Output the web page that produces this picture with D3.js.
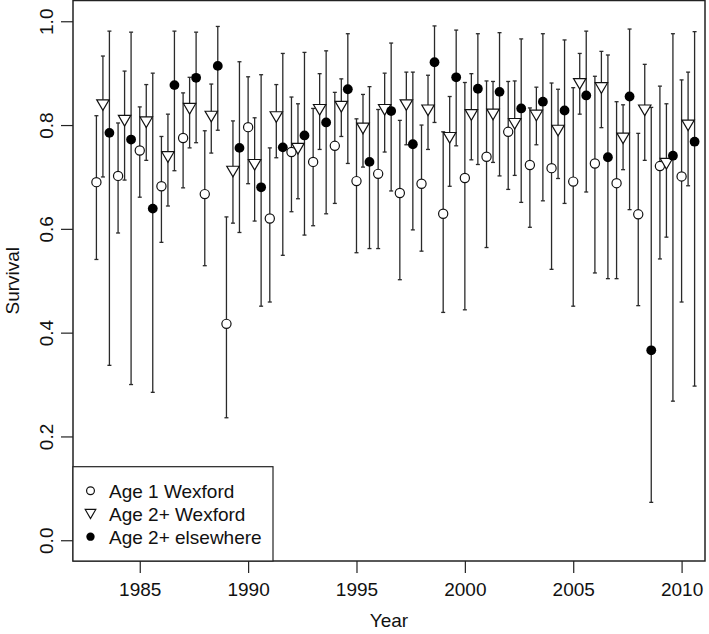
<!DOCTYPE html>
<html>
<head>
<meta charset="utf-8">
<script src="https://cdn.jsdelivr.net/npm/d3@7"></script>
<style>
  body { margin: 0; background: #fff; }
  text { font-family: "Liberation Sans", Arial, sans-serif; fill: #111; }
</style>
</head>
<body>
<svg id="chart"></svg>
<script>
const width = 709;
const height = 634;

// data
const years = [1983, 1984, 1985, 1986, 1987, 1988, 1989, 1990, 1991, 1992, 1993, 1994, 1995, 1996,
               1997, 1998, 1999, 2000, 2001, 2002, 2003, 2004, 2005, 2006, 2007, 2008, 2009, 2010];

const age1 = [0.690, 0.702, 0.751, 0.682, 0.775, 0.667, 0.417, 0.796, 0.620, 0.748, 0.729, 0.760, 0.692, 0.706,
              0.669, 0.687, 0.629, 0.698, 0.739, 0.787, 0.723, 0.717, 0.691, 0.726, 0.688, 0.628, 0.721, 0.701];
const age1Lo = [0.541, 0.592, 0.661, 0.574, 0.679, 0.529, 0.236, 0.687, 0.459, 0.633, 0.606, 0.649, 0.554, 0.562,
                0.502, 0.557, 0.439, 0.444, 0.564, 0.676, 0.603, 0.522, 0.451, 0.515, 0.504, 0.452, 0.542, 0.459];
const age1Hi = [0.818, 0.804, 0.835, 0.778, 0.862, 0.789, 0.623, 0.893, 0.756, 0.854, 0.832, 0.863, 0.812, 0.830,
                0.809, 0.800, 0.787, 0.882, 0.885, 0.884, 0.833, 0.881, 0.872, 0.894, 0.845, 0.784, 0.875, 0.887];

const age2W = [0.839, 0.809, 0.806, 0.739, 0.832, 0.817, 0.711, 0.724, 0.816, 0.755, 0.830, 0.836, 0.794, 0.830,
               0.839, 0.829, 0.776, 0.820, 0.821, 0.803, 0.819, 0.790, 0.880, 0.872, 0.775, 0.829, 0.726, 0.800];
const age2WLo = [0.700, 0.694, 0.732, 0.644, 0.756, 0.746, 0.611, 0.615, 0.737, 0.658, 0.753, 0.778, 0.719, 0.748,
                 0.762, 0.753, 0.682, 0.733, 0.728, 0.703, 0.762, 0.697, 0.821, 0.795, 0.714, 0.732, 0.584, 0.683];
const age2WHi = [0.933, 0.904, 0.878, 0.821, 0.892, 0.879, 0.808, 0.814, 0.878, 0.841, 0.899, 0.889, 0.859, 0.900,
                 0.902, 0.896, 0.855, 0.899, 0.884, 0.885, 0.873, 0.869, 0.938, 0.942, 0.839, 0.917, 0.841, 0.902];

const age2E = [0.785, 0.772, 0.639, 0.877, 0.891, 0.914, 0.756, 0.680, 0.757, 0.780, 0.805, 0.869, 0.729, 0.827,
               0.763, 0.921, 0.892, 0.870, 0.864, 0.832, 0.845, 0.828, 0.857, 0.738, 0.855, 0.366, 0.741, 0.768];
const age2ELo = [0.337, 0.300, 0.285, 0.712, 0.766, 0.790, 0.593, 0.451, 0.549, 0.588, 0.629, 0.726, 0.562, 0.673,
                 0.598, 0.805, 0.760, 0.724, 0.702, 0.651, 0.654, 0.649, 0.671, 0.504, 0.637, 0.073, 0.268, 0.297];
const age2EHi = [0.981, 0.979, 0.900, 0.981, 0.979, 0.990, 0.922, 0.897, 0.938, 0.940, 0.943, 0.976, 0.874, 0.958,
                 0.902, 0.991, 0.983, 0.976, 0.978, 0.966, 0.976, 0.964, 0.981, 0.935, 0.985, 0.834, 0.976, 0.980];

const xTicks = [1985, 1990, 1995, 2000, 2005, 2010];
const yTicks = [0.0, 0.2, 0.4, 0.6, 0.8, 1.0];
const seriesNames = ['Age 1 Wexford', 'Age 2+ Wexford', 'Age 2+ elsewhere'];

const plot = { left: 73, right: 705, top: 0.5, bottom: 561 };

const svg = d3.select('#chart')
    .attr('width', width)
    .attr('height', height);

// R style 4% padding on both axes
const x = d3.scaleLinear()
    .domain([1983 - 0.04 * 27, 2010 + 0.04 * 27])
    .range([plot.left, plot.right]);

const y = d3.scaleLinear()
    .domain([-0.04, 1.04])
    .range([plot.bottom, plot.top]);

const series = [
    { name: seriesNames[0], shape: 'circle', offset: 0.0, mid: age1, lo: age1Lo, hi: age1Hi },
    { name: seriesNames[1], shape: 'triangle', offset: 0.3, mid: age2W, lo: age2WLo, hi: age2WHi },
    { name: seriesNames[2], shape: 'dot', offset: 0.6, mid: age2E, lo: age2ELo, hi: age2EHi }
];

const plotArea = svg.append('g');

// error bars
series.forEach((s) => {
    const rows = years.map((yr, i) => ({ x: yr + s.offset, lo: s.lo[i], hi: s.hi[i] }));
    const g = plotArea.append('g')
        .attr('stroke', '#2a2a2a')
        .attr('stroke-width', 1.3);
    g.selectAll('line.bar')
        .data(rows)
        .enter()
        .append('line')
        .attr('x1', d => x(d.x))
        .attr('x2', d => x(d.x))
        .attr('y1', d => y(d.lo))
        .attr('y2', d => y(d.hi));
    g.selectAll('line.capLo')
        .data(rows)
        .enter()
        .append('line')
        .attr('x1', d => x(d.x) - 2)
        .attr('x2', d => x(d.x) + 2)
        .attr('y1', d => y(d.lo))
        .attr('y2', d => y(d.lo));
    g.selectAll('line.capHi')
        .data(rows)
        .enter()
        .append('line')
        .attr('x1', d => x(d.x) - 2)
        .attr('x2', d => x(d.x) + 2)
        .attr('y1', d => y(d.hi))
        .attr('y2', d => y(d.hi));
});

function drawMarker(sel, shape, k) {
    if (shape === 'circle') {
        sel.append('circle')
            .attr('r', 4.6 * k)
            .attr('fill', '#fff')
            .attr('stroke', '#111')
            .attr('stroke-width', 1.2);
    } else if (shape === 'triangle') {
        sel.append('path')
            .attr('d', `M${-6.2 * k},${-5 * k}L${6.2 * k},${-5 * k}L0,${5.6 * k}Z`)
            .attr('fill', '#fff')
            .attr('stroke', '#111')
            .attr('stroke-width', 1.2);
    } else {
        sel.append('circle')
            .attr('r', 4.9 * k)
            .attr('fill', '#000');
    }
}

// points
series.forEach((s) => {
    const rows = years.map((yr, i) => ({ x: yr + s.offset, v: s.mid[i] }));
    plotArea.append('g')
        .selectAll('g')
        .data(rows)
        .enter()
        .append('g')
        .attr('transform', d => `translate(${x(d.x)},${y(d.v)})`)
        .each(function() { drawMarker(d3.select(this), s.shape, 1); });
});

// axes
const xAxis = svg.append('g')
    .attr('transform', `translate(0,${plot.bottom})`)
    .call(d3.axisBottom(x).tickValues(xTicks).tickFormat(d3.format('d')).tickSize(12).tickPadding(10));

const yAxis = svg.append('g')
    .attr('transform', `translate(${plot.left},0)`)
    .call(d3.axisLeft(y).tickValues(yTicks).tickFormat(d3.format('.1f')).tickSize(12));

[xAxis, yAxis].forEach((a) => {
    a.select('.domain').remove();
    a.selectAll('line').attr('stroke', '#222').attr('stroke-width', 1.2);
    a.selectAll('text').style('font-size', '19px').attr('fill', '#111');
});

yAxis.selectAll('text')
    .attr('x', 0)
    .attr('dy', 0)
    .attr('text-anchor', 'middle')
    .attr('transform', 'translate(-20.5,0) rotate(-90)');

// frame
svg.append('rect')
    .attr('x', plot.left)
    .attr('y', plot.top)
    .attr('width', plot.right - plot.left)
    .attr('height', plot.bottom - plot.top)
    .attr('fill', 'none')
    .attr('stroke', '#222')
    .attr('stroke-width', 1.5);

svg.append('text')
    .attr('x', (plot.left + plot.right) / 2)
    .attr('y', 627)
    .attr('text-anchor', 'middle')
    .style('font-size', '19px')
    .text('Year');

svg.append('text')
    .attr('transform', `translate(19,${(plot.top + plot.bottom) / 2}) rotate(-90)`)
    .attr('text-anchor', 'middle')
    .style('font-size', '19px')
    .text('Survival');

// legend
const legend = svg.append('g');
legend.append('rect')
    .attr('x', plot.left)
    .attr('y', 466.7)
    .attr('width', 200)
    .attr('height', plot.bottom - 466.7)
    .attr('fill', '#fff')
    .attr('stroke', '#222')
    .attr('stroke-width', 1.2);

series.forEach((s, i) => {
    const cy = 490.7 + i * 23;
    const item = legend.append('g').attr('transform', `translate(90.5,${cy})`);
    drawMarker(item, s.shape, 0.85);
    legend.append('text')
        .attr('x', 109)
        .attr('y', cy + 6.8)
        .style('font-size', '19px')
        .text(s.name);
});
</script>
</body>
</html>
